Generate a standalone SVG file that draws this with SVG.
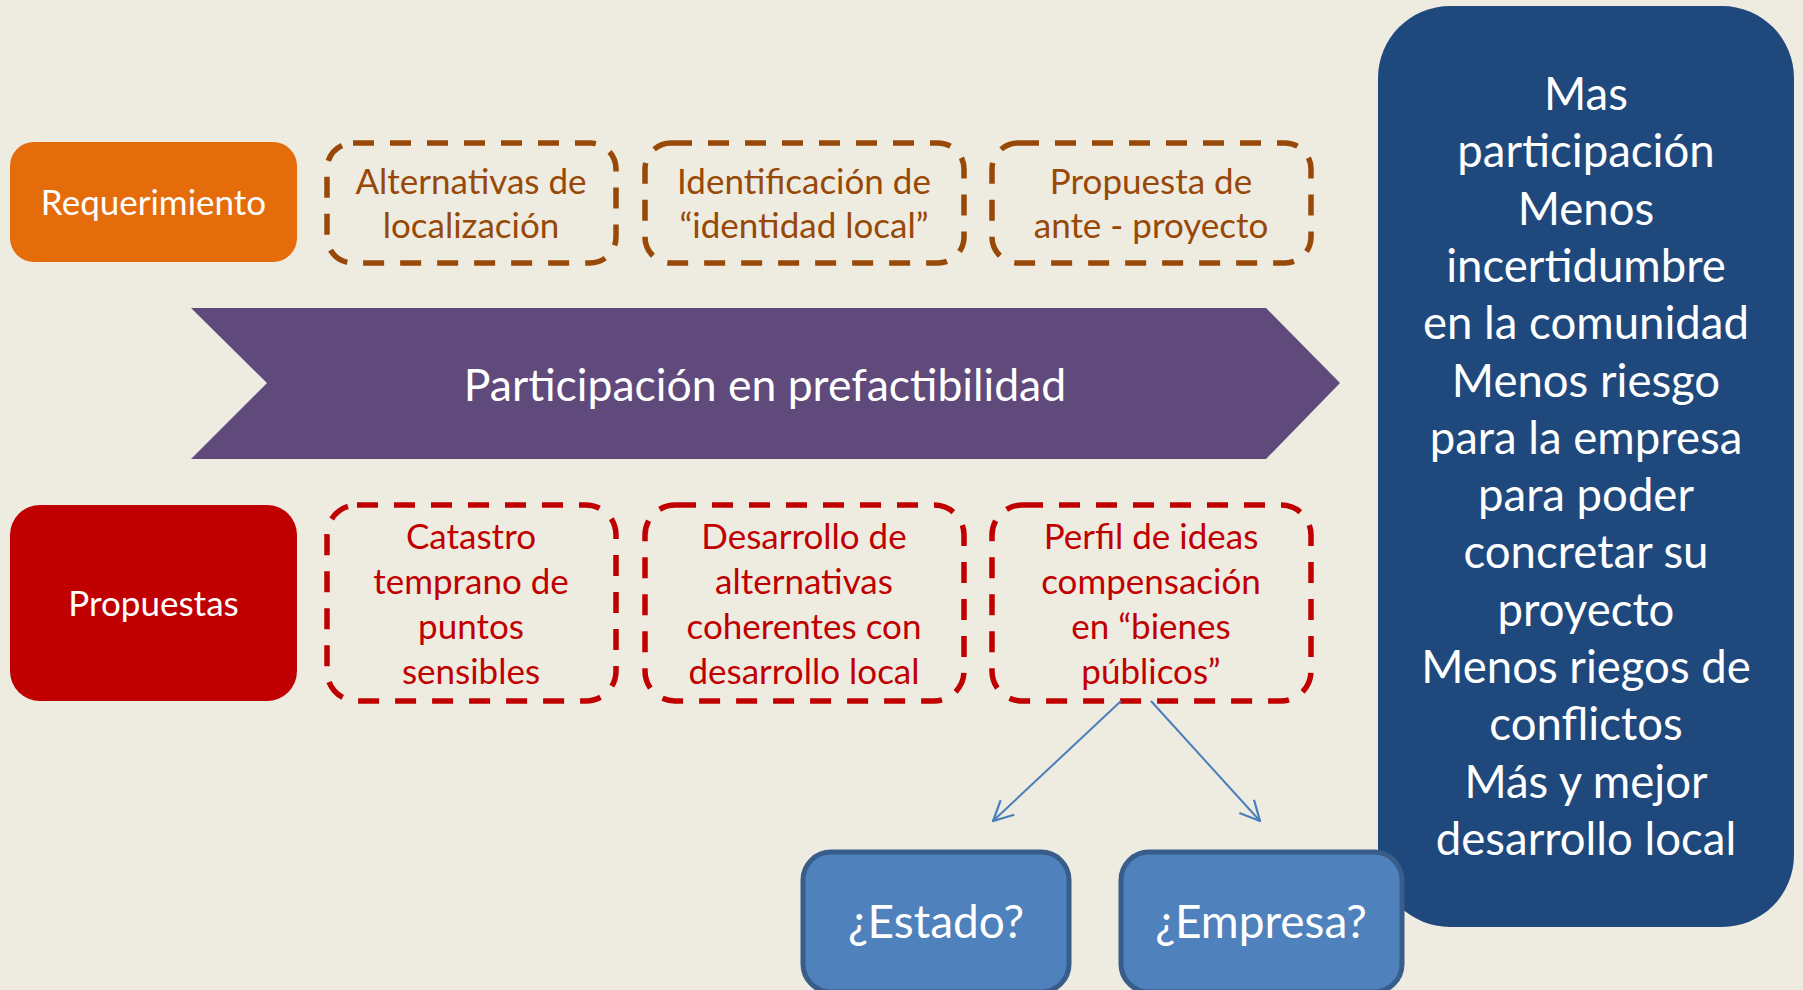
<svg xmlns="http://www.w3.org/2000/svg" width="1803" height="990" viewBox="0 0 1803 990">
<defs>
<style>
.t{font-family:Lato,"Open Sans","DejaVu Sans",sans-serif;text-anchor:middle}
.w{fill:#ffffff}
.br{fill:#984807;font-size:35px}
.rd{fill:#c00000;font-size:35px}
.dbr{fill:none;stroke:#984807;stroke-width:5.5;stroke-dasharray:21 16}
.drd{fill:none;stroke:#c00000;stroke-width:5.5;stroke-dasharray:21 16}
.bl{fill:#4f81bd;stroke:#385d8a;stroke-width:5}
.conn{stroke:#4a7ebb;stroke-width:2;fill:none}
</style>
<marker id="ah" viewBox="0 0 20 20" refX="19" refY="10" markerWidth="22" markerHeight="22" markerUnits="userSpaceOnUse" orient="auto">
<path d="M1,1 L19,10 L1,19" fill="none" stroke="#4a7ebb" stroke-width="2"/>
</marker>
</defs>
<rect x="0" y="0" width="1803" height="990" fill="#eeece1"/>

<g id="requerimiento">
<rect x="10" y="142" width="287" height="120" rx="24" fill="#e46c0a"/>
<text class="t w" x="153.5" y="215" font-size="35">Requerimiento</text>
</g>
<g id="alternativas">
<rect class="dbr" x="327" y="143" width="289" height="120" rx="26"/>
<text class="t br" x="471" y="194">Alternativas de</text>
<text class="t br" x="471" y="238">localización</text>
</g>
<g id="identificacion">
<rect class="dbr" x="645" y="143" width="319" height="120" rx="26"/>
<text class="t br" x="804" y="194">Identificación de</text>
<text class="t br" x="804" y="238">“identidad local”</text>
</g>
<g id="propuesta">
<rect class="dbr" x="992" y="143" width="319" height="120" rx="26"/>
<text class="t br" x="1151" y="194">Propuesta de</text>
<text class="t br" x="1151" y="238">ante - proyecto</text>
</g>

<g id="chevron">
<polygon points="191,308 1266,308 1340,383 1266,459 191,459 267,383" fill="#604a7b"/>
<text class="t w" x="765" y="401" font-size="44.5">Participación en prefactibilidad</text>
</g>

<g id="propuestas">
<rect x="10" y="505" width="287" height="196" rx="30" fill="#c00000"/>
<text class="t w" x="153.5" y="616" font-size="35">Propuestas</text>
</g>
<g id="catastro">
<rect class="drd" x="327" y="505" width="289" height="196" rx="30"/>
<text class="t rd" x="471" y="549">Catastro</text>
<text class="t rd" x="471" y="594">temprano de</text>
<text class="t rd" x="471" y="639">puntos</text>
<text class="t rd" x="471" y="684">sensibles</text>
</g>
<g id="desarrollo">
<rect class="drd" x="645" y="505" width="319" height="196" rx="30"/>
<text class="t rd" x="804" y="549">Desarrollo de</text>
<text class="t rd" x="804" y="594">alternativas</text>
<text class="t rd" x="804" y="639">coherentes con</text>
<text class="t rd" x="804" y="684">desarrollo local</text>
</g>
<g id="perfil">
<rect class="drd" x="992" y="505" width="319" height="196" rx="30"/>
<text class="t rd" x="1151" y="549">Perfil de ideas</text>
<text class="t rd" x="1151" y="594">compensación</text>
<text class="t rd" x="1151" y="639">en “bienes</text>
<text class="t rd" x="1151" y="684">públicos”</text>
</g>

<g id="resultados">
<rect x="1378" y="6" width="416" height="921" rx="72" fill="#1f497d"/>
<g class="t w" font-size="45.5">
<text x="1586" y="110">Mas</text>
<text x="1586" y="167">participación</text>
<text x="1586" y="225">Menos</text>
<text x="1586" y="282">incertidumbre</text>
<text x="1586" y="339">en la comunidad</text>
<text x="1586" y="397">Menos riesgo</text>
<text x="1586" y="454">para la empresa</text>
<text x="1586" y="511">para poder</text>
<text x="1586" y="568">concretar su</text>
<text x="1586" y="626">proyecto</text>
<text x="1586" y="683">Menos riegos de</text>
<text x="1586" y="740">conflictos</text>
<text x="1586" y="798">Más y mejor</text>
<text x="1586" y="855">desarrollo local</text>
</g>
</g>

<g id="connectors">
<line class="conn" x1="1121" y1="701" x2="993" y2="821" marker-end="url(#ah)"/>
<line class="conn" x1="1151" y1="701" x2="1260" y2="821" marker-end="url(#ah)"/>
</g>

<g id="estado">
<rect class="bl" x="803" y="852" width="266" height="140" rx="28"/>
<text class="t w" x="936" y="938" font-size="46">¿Estado?</text>
</g>
<g id="empresa">
<rect class="bl" x="1121" y="852" width="281" height="140" rx="28"/>
<text class="t w" x="1261" y="938" font-size="46">¿Empresa?</text>
</g>
</svg>
